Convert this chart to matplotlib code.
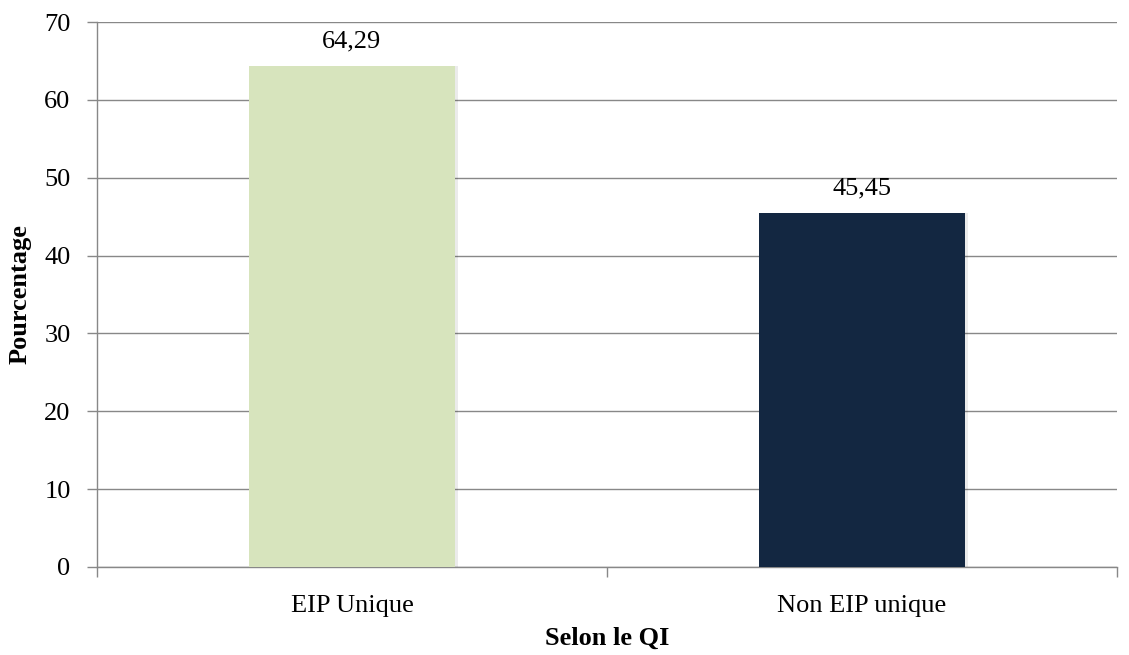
import matplotlib.pyplot as plt
import numpy as np

# data
categories = ["EIP Unique", "Non EIP unique"]
values = [64.29, 45.45]
value_labels = ["64,29", "45,45"]
bar_colors = ["#D7E4BD", "#132741"]

plt.rcParams['font.family'] = ['Liberation Serif', 'DejaVu Serif']

fig = plt.figure(figsize=(11.29, 6.55), dpi=100)
ax = fig.add_axes([0.0859, 0.1344, 0.9035, 0.832])

x = np.arange(len(categories))
# soft shadow behind bars
ax.bar(x + 0.006, values, width=0.405, color="#000000", alpha=0.08, zorder=2)
ax.bar(x, values, width=0.405, color=bar_colors, zorder=3)

for xi, v, lab in zip(x, values, value_labels):
    ax.text(xi, v + 1.8, lab, ha="center", va="bottom", fontsize=19, color="#000000")

ax.set_xlim(-0.5, 1.5)
ax.set_ylim(0, 70)
ax.set_yticks(range(0, 71, 10))
ax.set_xticks(x)
ax.set_xticklabels(categories, fontsize=19)
ax.set_xticks([-0.5, 0.5, 1.5], minor=True)
ax.tick_params(axis="x", which="major", length=0, pad=20)
ax.tick_params(axis="x", which="minor", length=7, color="#888888", width=1)
ax.tick_params(axis="y", labelsize=19, length=7, color="#888888", width=1, pad=12)

ax.yaxis.grid(True, color="#888888", linewidth=1, zorder=0)
ax.set_axisbelow(True)
for side in ["top", "right"]:
    ax.spines[side].set_visible(False)
for side in ["left", "bottom"]:
    ax.spines[side].set_color("#888888")
    ax.spines[side].set_linewidth(1)

ax.set_ylabel("Pourcentage", fontsize=19, fontweight="bold", labelpad=9)
ax.set_xlabel("Selon le QI", fontsize=19, fontweight="bold", labelpad=7)

fig.savefig("out.png", dpi=100)
